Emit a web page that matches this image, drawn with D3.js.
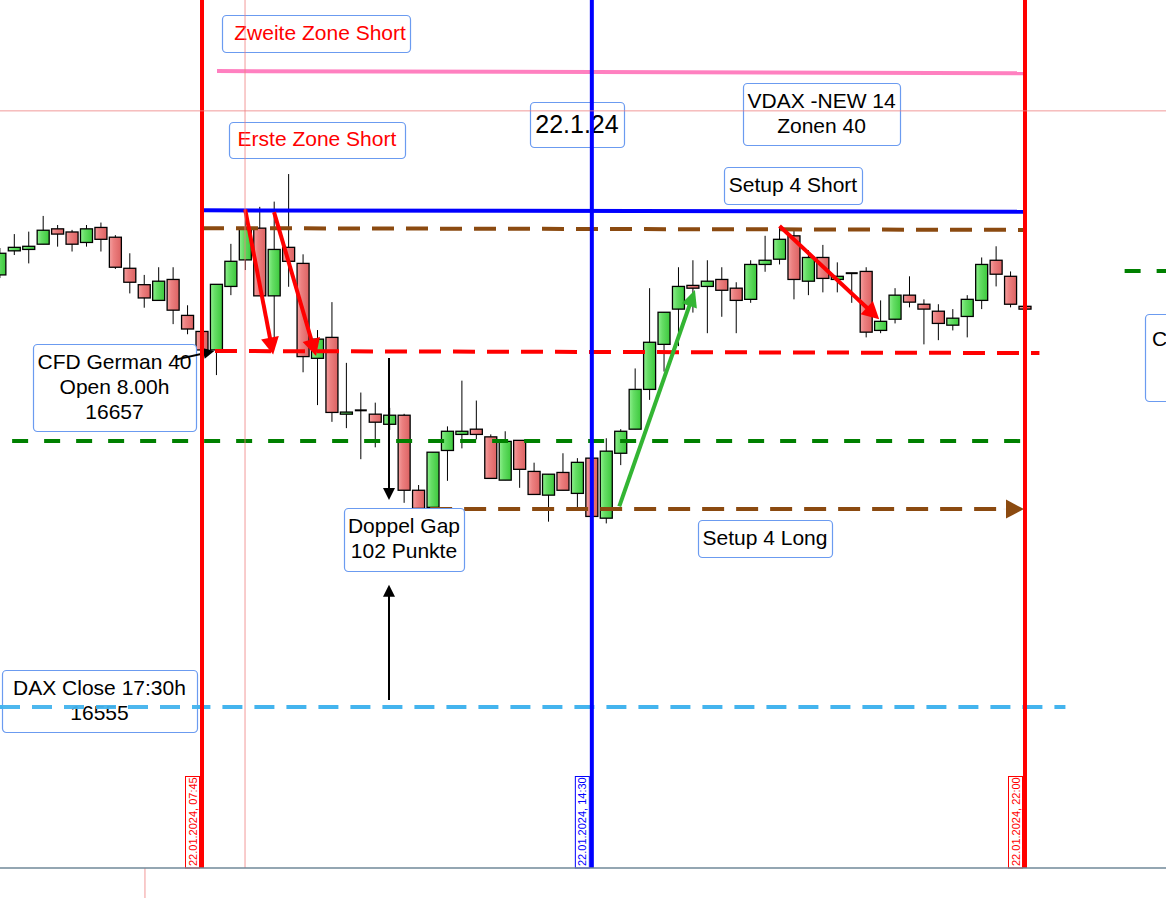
<!DOCTYPE html>
<html><head><meta charset="utf-8">
<script src="https://cdn.jsdelivr.net/npm/d3@7/dist/d3.min.js"></script>
<style>html,body{margin:0;padding:0;background:#fff;overflow:hidden}</style>
</head><body><svg id="c" width="1166" height="898"></svg>
<script>
// ---- DATA (15-minute candles, CFD German 40, 22.01.2024, first candle 04:15) ----
const opens  = [16678.8,16685.7,16686.1,16687.6,16692.0,16691.1,16688.1,16692.4,16689.6,16680.7,16676.0,16671.5,16677.5,16667.2,
  16662.6,16657.3,16675.5,16683.1,16692.2,16672.8,16686.7,16682.1,16654.9,16660.9,16638.9,16640.0,16638.9,16636.0,16638.6,16617.1,
  16612.2,16628.5,16633.1,16634.6,16632.4,16620.0,16631.4,16622.5,16615.7,16622.2,16616.2,16626.3,16609.1,16627.7,16634.6,16646.0,
  16658.9,16669.0,16675.8,16675.5,16677.5,16675.0,16671.8,16681.8,16683.3,16690.0,16677.0,16683.8,16677.5,16679.3,16679.8,16662.9,
  16666.1,16673.0,16670.4,16668.4,16664.4,16666.9,16671.5,16683.0,16678.4,16669.8];
const highs  = [16686.5,16690.5,16691.2,16695.7,16693.1,16691.7,16693.1,16693.8,16690.2,16685.0,16678.8,16681.0,16681.0,16670.1,
  16662.6,16676.1,16687.7,16697.4,16698.3,16699.8,16707.7,16684.7,16663.0,16671.0,16653.6,16645.1,16642.2,16640.7,16639.0,16618.6,
  16628.0,16635.4,16648.5,16642.8,16633.1,16634.0,16631.4,16625.0,16621.7,16627.7,16626.3,16626.3,16632.0,16634.6,16652.0,16675.0,
  16668.1,16681.0,16683.0,16683.0,16681.0,16676.7,16683.0,16690.0,16692.6,16691.7,16685.9,16687.4,16682.4,16679.3,16681.0,16671.5,
  16675.0,16678.4,16671.8,16670.4,16669.0,16673.0,16683.8,16687.0,16679.8,16671.6];
const lows   = [16677.9,16684.5,16682.1,16687.6,16686.9,16685.5,16686.9,16685.5,16680.5,16673.5,16669.4,16671.5,16664.7,16661.8,
  16655.9,16650.1,16673.0,16680.2,16672.8,16660.2,16675.4,16650.9,16641.5,16636.7,16634.9,16626.0,16629.4,16634.4,16613.5,16610.9,
  16611.7,16619.8,16629.1,16631.7,16620.5,16620.0,16617.8,16615.9,16608.1,16617.1,16611.9,16609.2,16607.6,16624.3,16634.6,16643.0,
  16651.1,16658.4,16668.0,16662.1,16666.8,16662.1,16670.8,16679.7,16681.8,16671.8,16673.0,16673.8,16673.8,16670.8,16660.9,16662.1,
  16664.9,16669.5,16658.9,16660.1,16662.9,16660.9,16669.0,16675.5,16669.5,16668.2];
const closes = [16685.0,16686.7,16687.0,16691.6,16690.5,16687.6,16692.0,16689.0,16681.0,16676.7,16672.2,16677.0,16668.7,16663.3,
  16657.3,16676.1,16682.7,16692.0,16672.8,16686.1,16682.7,16655.4,16660.4,16639.4,16639.5,16640.0,16636.6,16638.6,16617.1,16611.9,
  16628.0,16634.0,16634.0,16633.1,16620.5,16631.1,16623.1,16615.9,16621.7,16617.1,16625.1,16609.6,16628.3,16634.0,16646.0,16659.5,
  16668.1,16675.5,16675.0,16677.0,16674.4,16671.5,16681.8,16683.0,16689.0,16677.5,16683.8,16677.8,16678.4,16679.3,16662.4,16665.5,
  16673.0,16671.0,16669.0,16664.9,16666.4,16671.8,16681.8,16679.0,16670.4,16669.0];

// horizontal levels: start price / end price, start and end (in 15-min steps from 07:45)
const levelStart = [16737.2, 16697.3, 16692.2, 16657.0, 16631.2, 16611.7, 16555.0, 16679.9];
const levelEnd   = [16736.6, 16696.9, 16691.7, 16656.4, 16631.2, 16611.7, 16555.0, 16679.9];
const levelFromK = [1.04, 0, 0, 0.9, -13.15, 15.8, -14.1, 63.9];
const levelToK   = [57, 57, 57, 58, 57, 57, 59.8, 70];

// vertical session lines
const vLineTimes = ["07:45", "14:30", "22:00"];
const vLineLabels = ["22.01.2024, 07:45", "22.01.2024, 14:30", "22.01.2024, 22:00"];

// annotation texts and anchors (candle step from 07:45, price)
const labelTexts = [["Zweite Zone Short"], ["Erste Zone Short"], ["22.1.24"], ["VDAX -NEW 14", "Zonen 40"],
  ["Setup 4 Short"], ["CFD German 40", "Open 8.00h", "16657"], ["Doppel Gap", "102 Punkte"], ["Setup 4 Long"],
  ["DAX Close 17:30h", "16555"], ["C"]];
const labelK = [7.90, 7.96, 25.97, 42.91, 40.93, -6.06, 13.99, 38.99, -7.10, 70.96];
const labelPrice = [16748.0, 16717.5, 16721.9, 16724.9, 16704.4, 16646.5, 16603.0, 16603.3, 16556.7, 16655.1];

// arrows: [fromK, fromPrice, toK, toPrice]
const arrowFromK = [2.99, 4.99, 40.0, 28.9, -1.75, 12.95, 12.95];
const arrowFromP = [16697.6, 16696.8, 16692.8, 16612.5, 16654.6, 16655.0, 16557.0];
const arrowToK   = [4.93, 7.9, 46.9, 34.14, 0.85, 12.95, 12.95];
const arrowToP   = [16656.0, 16655.6, 16666.1, 16674.5, 16657.0, 16614.3, 16590.0];

// ---- SCALES ----
const W = 1166, H = 898, plotBottom = 868;
const t0745 = new Date(2024, 0, 22, 7, 45);
const t2200 = new Date(2024, 0, 22, 22, 0);
const x = d3.scaleTime().domain([t0745, t2200]).range([202, 1025]);
const y = d3.scaleLinear().domain([16657, 16555]).range([351, 707]);
const tk = k => new Date(t0745.getTime() + k * 15 * 60000);
const xk = k => x(tk(k));
const parseT = s => { const [h, m] = s.split(":").map(Number); return new Date(2024, 0, 22, h, m); };
const firstK = -14;
const times = opens.map((_, i) => tk(firstK + i));
const step = xk(1) - xk(0);
const bodyW = Math.round(step * 0.84);

const svg = d3.select("#c");
const defs = svg.append("defs");
function grad(id, c1, c2, c3) {
  const g = defs.append("linearGradient").attr("id", id).attr("x1", "0").attr("x2", "1").attr("y1", "0").attr("y2", "0");
  g.append("stop").attr("offset", "0").attr("stop-color", c1);
  g.append("stop").attr("offset", "0.35").attr("stop-color", c2);
  g.append("stop").attr("offset", "1").attr("stop-color", c3);
}
grad("gUp", "#8ff08f", "#66de66", "#3cc83c");
grad("gDn", "#f4a0a0", "#ec8080", "#dc6262");
defs.append("clipPath").attr("id", "plot").append("rect").attr("x", 0).attr("y", 0).attr("width", W).attr("height", plotBottom);

svg.append("rect").attr("width", W).attr("height", H).attr("fill", "#fff");
const plot = svg.append("g").attr("clip-path", "url(#plot)");

// candles
const cg = plot.append("g");
opens.forEach((o, i) => {
  const c = closes[i], cx = x(times[i]);
  const doji = Math.abs(o - c) < 0.05;
  cg.append("line").attr("x1", cx).attr("x2", cx).attr("y1", y(highs[i])).attr("y2", y(lows[i]))
    .attr("stroke", "#000").attr("stroke-width", 1);
  if (doji) {
    cg.append("line").attr("x1", cx - bodyW / 2).attr("x2", cx + bodyW / 2).attr("y1", y(o)).attr("y2", y(o))
      .attr("stroke", "#000").attr("stroke-width", 2);
  } else {
    const top = y(Math.max(o, c)), bot = y(Math.min(o, c));
    cg.append("rect").attr("x", cx - bodyW / 2).attr("y", top).attr("width", bodyW).attr("height", Math.max(bot - top, 1.5))
      .attr("fill", c > o ? "url(#gUp)" : "url(#gDn)").attr("stroke", "#000").attr("stroke-width", 1.3);
  }
});

// horizontal levels
const levelColor = ["#ff80c0", "#0000ff", "#8b4a10", "#ff0000", "#008000", "#8b4a10", "#44b4ee", "#008000"];
const levelDash  = [null, null, "22,12", "22,12", "16,16", "22,12", "20,12", "16,16"];
const levelWidth = [4, 4, 4, 4, 4, 4, 4, 4];
levelStart.forEach((p, i) => {
  let x2 = xk(levelToK[i]);
  if (i === 5) x2 -= 16;
  plot.append("line").attr("x1", xk(levelFromK[i])).attr("x2", x2).attr("y1", y(p)).attr("y2", y(levelEnd[i]))
    .attr("stroke", levelColor[i]).attr("stroke-width", levelWidth[i]).attr("stroke-dasharray", levelDash[i]);
});

// arrows
function arrow(x1, y1, x2, y2, color, w, hl, hw) {
  const a = Math.atan2(y2 - y1, x2 - x1), ca = Math.cos(a), sa = Math.sin(a);
  const bx = x2 - hl * ca, by = y2 - hl * sa;
  svg.append("line").attr("x1", x1).attr("y1", y1).attr("x2", bx + ca).attr("y2", by + sa)
    .attr("stroke", color).attr("stroke-width", w);
  svg.append("path").attr("d", `M${x2},${y2}L${bx - hw / 2 * sa},${by + hw / 2 * ca}L${bx + hw / 2 * sa},${by - hw / 2 * ca}Z`)
    .attr("fill", color);
}
const arrowColor = ["#ff0000", "#ff0000", "#ff0000", "#33b533", "#000", "#000", "#000"];
const arrowW = [4, 4, 4, 4, 2, 2, 2];
const arrowHL = [17, 17, 17, 17, 11, 12, 12];
const arrowHW = [18, 18, 18, 16, 11, 12, 12];
arrowFromK.forEach((k, i) => {
  if (i === 4) return;
  arrow(xk(k), y(arrowFromP[i]), xk(arrowToK[i]), y(arrowToP[i]), arrowColor[i], arrowW[i], arrowHL[i], arrowHW[i]);
});
// brown arrow head at the end of the long-setup line
arrow(xk(55.5), y(16611.7), xk(57) - 1, y(16611.7), "#8b4a10", 0.1, 18, 19);

// text boxes
const labelW = [188, 176, 94, 157, 138, 163, 120, 134, 195, 163];
const labelH = [37, 36, 45, 62, 37, 87, 63, 37, 62, 87];
const labelColor = ["#ff0000", "#ff0000", "#000", "#000", "#000", "#000", "#000", "#000", "#000", "#000"];
const labelSize = [21, 21, 25, 21, 21, 21, 21, 21, 21, 21];
labelTexts.forEach((lines, i) => {
  const cx = xk(labelK[i]), cy = y(labelPrice[i]);
  const g = svg.append("g");
  g.append("rect").attr("x", Math.round(cx - labelW[i] / 2) + 0.5).attr("y", Math.round(cy - labelH[i] / 2) + 0.5)
    .attr("width", labelW[i]).attr("height", labelH[i]).attr("rx", 4)
    .attr("fill", "#fff").attr("stroke", "#6b9bf0").attr("stroke-width", 1.2);
  const n = lines.length;
  lines.forEach((s, j) => {
    const last = i === 9;
    g.append("text")
      .attr("x", last ? cx - labelW[i] / 2 + 7 : cx + (i === 0 ? 4 : 0))
      .attr("y", cy + (j - (n - 1) / 2) * 25 + (labelSize[i] > 22 ? 8.5 : 6.5) - (last ? 18 : 0))
      .attr("text-anchor", last ? "start" : "middle")
      .attr("font-family", "Liberation Sans, Arial, sans-serif").attr("font-size", labelSize[i])
      .attr("fill", labelColor[i]).text(s);
  });
});

// black arrow from the CFD box, drawn over the box
arrow(xk(arrowFromK[4]), y(arrowFromP[4]), xk(arrowToK[4]), y(arrowToP[4]), "#000", 2, 11, 11);
// DAX close line passes over its box
svg.append("line").attr("x1", 0).attr("x2", xk(-0.1)).attr("y1", y(16555)).attr("y2", y(16555))
  .attr("stroke", "#44b4ee").attr("stroke-width", 4).attr("stroke-dasharray", "20,12").attr("opacity", 0.95);

// vertical lines (over boxes)
const vColor = ["#ff0000", "#0000ff", "#ff0000"];
vLineTimes.forEach((t, i) => {
  const vx = x(parseT(t));
  svg.append("line").attr("x1", vx).attr("x2", vx).attr("y1", 0).attr("y2", plotBottom)
    .attr("stroke", vColor[i]).attr("stroke-width", 4);
  svg.append("rect").attr("x", vx - 16.5).attr("y", 776.5).attr("width", 14).attr("height", plotBottom - 776.5)
    .attr("fill", "#fff").attr("stroke", vColor[i]).attr("stroke-width", 1);
  svg.append("text").attr("transform", `translate(${vx - 5.5},${866}) rotate(-90)`)
    .attr("font-family", "Liberation Sans, Arial, sans-serif").attr("font-size", 11).attr("fill", vColor[i])
    .text(vLineLabels[i]);
});

// crosshair lines (on top)
svg.append("line").attr("x1", 0).attr("x2", W).attr("y1", y(16725.8)).attr("y2", y(16725.8))
  .attr("stroke", "#f08080").attr("stroke-width", 1).attr("opacity", 0.8);
svg.append("line").attr("x1", xk(2.98)).attr("x2", xk(2.98)).attr("y1", 0).attr("y2", plotBottom)
  .attr("stroke", "#f08080").attr("stroke-width", 1).attr("opacity", 0.8);
svg.append("line").attr("x1", xk(-3.95)).attr("x2", xk(-3.95)).attr("y1", plotBottom).attr("y2", H)
  .attr("stroke", "#f08080").attr("stroke-width", 1).attr("opacity", 0.8);

// axis line
svg.append("line").attr("x1", 0).attr("x2", W).attr("y1", plotBottom).attr("y2", plotBottom)
  .attr("stroke", "#708898").attr("stroke-width", 1.5);
</script></body></html>
